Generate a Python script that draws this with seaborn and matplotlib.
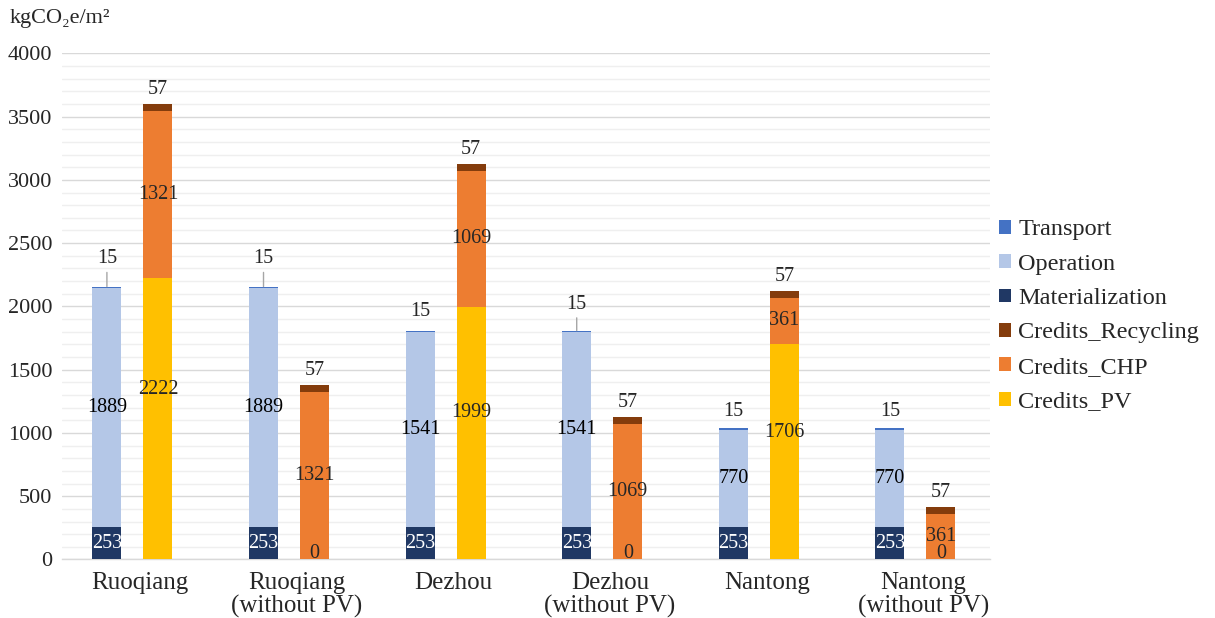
# Carbon emissions vs credits per site, stacked bars

import matplotlib
matplotlib.use('Agg')
import matplotlib.pyplot as plt
import matplotlib.patches as mpatches
from matplotlib.ticker import MultipleLocator
import numpy as np
import seaborn as sns


sites = ['Ruoqiang', 'Ruoqiang\n(without PV)', 'Dezhou', 'Dezhou\n(without PV)',
         'Nantong', 'Nantong\n(without PV)']

materialization = [253, 253, 253, 253, 253, 253]
operation = [1889, 1889, 1541, 1541, 770, 770]
transport = [15, 15, 15, 15, 15, 15]

credits_pv = [2222, 0, 1999, 0, 1706, 0]
credits_chp = [1321, 1321, 1069, 1069, 361, 361]
credits_recycling = [57, 57, 57, 57, 57, 57]

colors = {
    'Transport': '#4472C4',
    'Operation': '#B4C7E7',
    'Materialization': '#203864',
    'Credits_Recycling': '#843C0C',
    'Credits_CHP': '#ED7D31',
    'Credits_PV': '#FFC000',
}

# label tweaks (points), roughly as placed in the original
transport_dy = [20, 20, 14, 19, 12, 12]
transport_leader = [True, True, False, True, False, False]
pv_dy = [21, 0, 15, 0, 14, 0]

sns.set_theme(style='white')
plt.rcParams['font.family'] = ['Liberation Serif', 'DejaVu Serif']
plt.rcParams['patch.linewidth'] = 0

fig = plt.figure(figsize=(12.15, 6.18), dpi=100)
ax = fig.add_axes([0.051, 0.0947, 0.7638, 0.819])

x = np.arange(len(sites))
w = 0.185
xe = x - 0.163
xc = x + 0.163

mat = np.array(materialization)
ope = np.array(operation)
tra = np.array(transport)
pv = np.array(credits_pv)
chp = np.array(credits_chp)
rec = np.array(credits_recycling)

bar_kw = dict(linewidth=0, zorder=3)
ax.bar(xe, mat, w, color=colors['Materialization'], **bar_kw)
ax.bar(xe, ope, w, bottom=mat, color=colors['Operation'], **bar_kw)
ax.bar(xe, tra, w, bottom=mat + ope, color=colors['Transport'], **bar_kw)

ax.bar(xc, pv, w, color=colors['Credits_PV'], **bar_kw)
ax.bar(xc, chp, w, bottom=pv, color=colors['Credits_CHP'], **bar_kw)
ax.bar(xc, rec, w, bottom=pv + chp, color=colors['Credits_Recycling'], **bar_kw)

fs_lab = 14.5
for i in range(len(sites)):
    # emission bar
    ax.text(xe[i], mat[i] / 2, str(mat[i]), ha='center', va='center',
            color='white', fontsize=fs_lab, zorder=5)
    ax.text(xe[i], mat[i] + ope[i] / 2, str(ope[i]), ha='center', va='center',
            color='black', fontsize=fs_lab, zorder=5)
    top = mat[i] + ope[i] + tra[i]
    if transport_leader[i]:
        ax.annotate(str(tra[i]), (xe[i], top), xytext=(0, transport_dy[i]),
                    textcoords='offset points', ha='center', va='center',
                    fontsize=fs_lab, zorder=5,
                    arrowprops=dict(arrowstyle='-', color='#A6A6A6', lw=1,
                                    shrinkA=1, shrinkB=0))
    else:
        ax.annotate(str(tra[i]), (xe[i], top), xytext=(0, transport_dy[i]),
                    textcoords='offset points', ha='center', va='center',
                    fontsize=fs_lab, zorder=5)

    # credits bar
    if pv[i] == 0:
        ax.annotate('0', (xc[i], 0), xytext=(0, 4.5), textcoords='offset points',
                    ha='center', va='center', fontsize=fs_lab, zorder=5)
    else:
        ax.annotate(str(pv[i]), (xc[i], pv[i] / 2), xytext=(0, pv_dy[i]),
                    textcoords='offset points', ha='center', va='center',
                    fontsize=fs_lab, zorder=5)
    ax.text(xc[i], pv[i] + chp[i] / 2, str(chp[i]), ha='center', va='center',
            fontsize=fs_lab, zorder=5)
    ax.annotate(str(rec[i]), (xc[i], pv[i] + chp[i] + rec[i]), xytext=(0, 10.5),
                textcoords='offset points', ha='center', va='center',
                fontsize=fs_lab, zorder=5)

ax.set_xlim(-0.45, 5.476)
ax.set_ylim(0, 4000)
ax.yaxis.set_major_locator(MultipleLocator(500))
ax.yaxis.set_minor_locator(MultipleLocator(100))
ax.grid(axis='y', which='major', color='#D9D9D9', lw=1, zorder=0)
ax.grid(axis='y', which='minor', color='#EFEFEF', lw=1, zorder=0)
ax.set_axisbelow(True)

for s in ['left', 'right', 'top']:
    ax.spines[s].set_visible(False)
ax.spines['bottom'].set_color('#D9D9D9')
ax.spines['bottom'].set_linewidth(1)

ax.set_xticks(x + 0.05)
ax.set_xticklabels(sites, fontsize=18, linespacing=1.05)
ax.tick_params(axis='x', length=0, pad=9)
ax.tick_params(axis='y', which='both', length=0, pad=7, labelsize=16)

fig.text(0.008, 0.97, 'kgCO\u2082e/m\u00b2', fontsize=16, ha='left', va='center')

handles = [mpatches.Patch(color=colors[k], label=k) for k in
           ['Transport', 'Operation', 'Materialization', 'Credits_Recycling',
            'Credits_CHP', 'Credits_PV']]
fig.legend(handles=handles, loc='upper left', bbox_to_anchor=(0.822, 0.645),
           frameon=False, fontsize=17.5, handlelength=0.5, handleheight=0.5,
           handletextpad=0.3, labelspacing=0.55, borderpad=0, borderaxespad=0)

fig.savefig('out.png', dpi=100)
